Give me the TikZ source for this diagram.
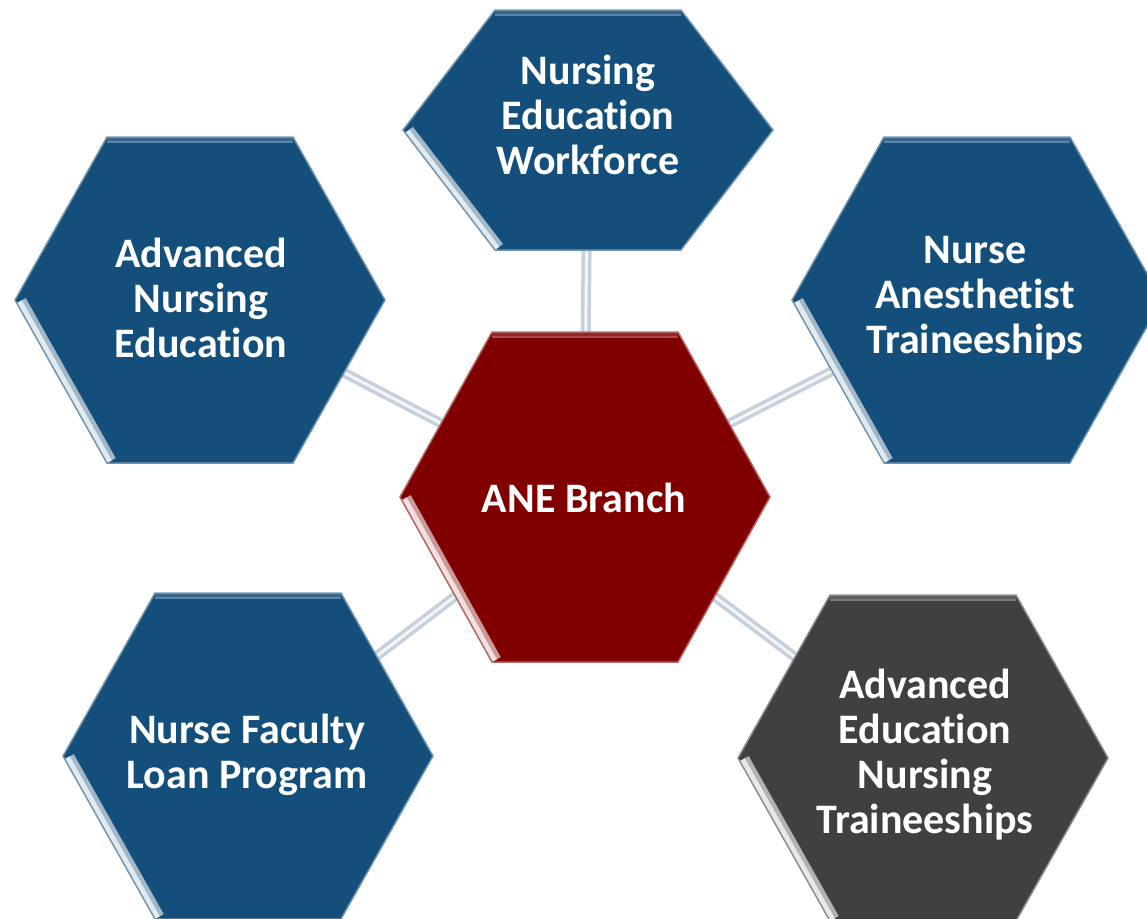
\documentclass[tikz,border=0pt]{standalone}
\usepackage{fontspec}
\setmainfont{Carlito}[Ligatures=NoCommon]
\usepackage{tikz}
\usetikzlibrary{calc}
\pgfdeclarelayer{links}
\pgfdeclarelayer{hexes}
\pgfsetlayers{links,hexes,main}
\definecolor{hexblue}{RGB}{20,78,122}
\definecolor{hexred}{RGB}{128,0,0}
\definecolor{hexgray}{RGB}{64,64,64}
\definecolor{linkgray}{RGB}{198,208,220}
\tikzstyle{hextext} = [text=white, font=\fontsize{42}{45}\selectfont\bfseries,
    align=center, inner sep=0pt]
\tikzstyle{link} = [line width=10pt, linkgray]
\tikzset{linkshine/.style={line width=3pt, white, opacity=0.8}}

% x, y, half height, colour
\newcommand{\hexagon}[4]{%
  \begin{scope}[shift={(#1,#2)}]
    \fill[#4] (-185,0) -- (-93,-#3) -- (93,-#3) -- (185,0) -- (93,#3) -- (-93,#3) -- cycle;
    \begin{scope}
      \clip (-185,0) -- (-93,-#3) -- (93,-#3) -- (185,0) -- (93,#3) -- (-93,#3) -- cycle;
      \draw[line width=12pt, #4!70!white] (-93,-#3) -- (93,-#3);
      \draw[line width=7pt, #4!85!white] (-93,-#3) -- (93,-#3);
      \draw[line width=20pt, #4!40!white] (-183,3) -- (-93,#3);
      \draw[line width=11pt, #4!12!white] (-183,3) -- (-93,#3);
    \end{scope}
    \draw[line width=1.5pt, #4!60!white] (-185,0) -- (-93,-#3) -- (93,-#3) -- (185,0)
      -- (93,#3) -- (-93,#3) -- cycle;
  \end{scope}}

\begin{document}
\begin{tikzpicture}[x=1pt, y=-1pt]
\useasboundingbox (0,0) rectangle (1147,918);

\node[hextext] (new) at (588,115) {Nursing\\Education\\Workforce};
\node[hextext] (ane) at (584,498) {ANE Branch};
\node[hextext] (ane-ed) at (201,298) {Advanced\\Nursing\\Education};
\node[hextext] (nat) at (975,298) {Nurse\\Anesthetist\\Traineeships};
\node[hextext] (nflp) at (247,755) {Nurse Faculty\\Loan Program};
\node[hextext] (aent) at (925,755) {Advanced\\Education\\Nursing\\Traineeships};

\begin{pgfonlayer}{hexes}
    \hexagon{588}{130}{120}{hexblue}
    \hexagon{200}{300}{163}{hexblue}
    \hexagon{977}{300}{163}{hexblue}
    \hexagon{585}{497}{165}{hexred}
    \hexagon{248}{756}{163}{hexblue}
    \hexagon{923}{758}{163}{hexgray}
\end{pgfonlayer}

\begin{pgfonlayer}{links}
    \draw[link] (ane) -- (new);
    \draw[link] (ane) -- (ane-ed);
    \draw[link] (ane) -- (nat);
    \draw[link] (ane) -- (nflp);
    \draw[link] (ane) -- (aent);
    \draw[linkshine] (ane) -- (new);
    \draw[linkshine] (ane) -- (ane-ed);
    \draw[linkshine] (ane) -- (nat);
    \draw[linkshine] (ane) -- (nflp);
    \draw[linkshine] (ane) -- (aent);
\end{pgfonlayer}
\end{tikzpicture}
\end{document}
